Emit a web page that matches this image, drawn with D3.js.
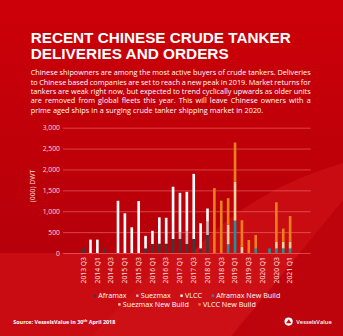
<!DOCTYPE html>
<html>
<head>
<meta charset="utf-8">
<script src="https://cdn.jsdelivr.net/npm/d3@7/dist/d3.min.js"></script>
<style>
  html, body { margin: 0; padding: 0; background: #c6060d; }
  svg { display: block; font-family: "Open Sans", "Noto Sans", sans-serif; }
  .title text { font-family: "Liberation Sans", Arial, sans-serif; }
</style>
</head>
<body>
<svg id="chart" width="343" height="336"></svg>
<script>
// Quarterly delivery / order-book volumes to Chinese owners, (000) DWT
const quarters = [
  "2013 Q3","2013 Q4","2014 Q1","2014 Q2","2014 Q3","2014 Q4",
  "2015 Q1","2015 Q2","2015 Q3","2015 Q4","2016 Q1","2016 Q2",
  "2016 Q3","2016 Q4","2017 Q1","2017 Q2","2017 Q3","2017 Q4",
  "2018 Q1","2018 Q2","2018 Q3","2018 Q4","2019 Q1","2019 Q2",
  "2019 Q3","2019 Q4","2020 Q1","2020 Q2","2020 Q3","2020 Q4","2021 Q1"
];
const aframax = [115,0,0,115,0,0, 0,0,0,110,216,223, 223,335,335,215,335,112, 431,0,0,0,0,0, 0,0,0,0,0,0,0];
const suezmax = [0,0,0,0,0,0, 0,0,0,0,0,0, 0,0,165,315,0,0, 319,0,0,0,0,0, 0,0,0,0,0,0,0];
const vlcc = [0,320,320,0,0,1250, 950,615,1245,300,316,630, 620,1252,940,935,1560,600, 315,0,0,0,0,0, 0,0,0,0,0,0,0];
const aframaxNB = [0,0,0,0,0,0, 0,0,0,0,0,0, 0,0,0,0,0,0, 0,0,0,208,775,0, 0,104,0,111,110,110,110];
const suezmaxNB = [0,0,0,0,0,0, 0,0,0,0,0,0, 0,0,0,0,0,0, 0,0,0,470,935,148, 0,0,0,0,160,160,160];
const vlccNB = [0,0,0,0,0,0, 0,0,0,0,0,0, 0,0,0,0,0,0, 0,1555,1253,635,935,637, 312,327,0,0,945,315,615];

const seriesNames = ["Aframax","Suezmax","VLCC","Aframax New Build","Suezmax New Build","VLCC New Build"];
const seriesValues = [aframax, suezmax, vlcc, aframaxNB, suezmaxNB, vlccNB];
const seriesColors = ["#3b3b3b","#c4c4c4","#ffffff","#17979c","#fbd2a2","#e9801c"];
const yTicks = [0,500,1000,1500,2000,2500,3000];
const xTickLabels = quarters.filter((q, i) => i % 2 === 0);

const titleLines = ["RECENT CHINESE CRUDE TANKER", "DELIVERIES AND ORDERS"];
const introLines = [
  "Chinese shipowners are among the most active buyers of crude tankers. Deliveries",
  "to Chinese based companies are set to reach a new peak in 2019. Market returns for",
  "tankers are weak right now, but expected to trend cyclically upwards as older units",
  "are removed from global fleets this year. This will leave Chinese owners with a",
  "prime aged ships in a surging crude tanker shipping market in 2020."
];

const W = 343, H = 336;
const svg = d3.select("#chart");

// ---- background panels ----
const defs = svg.append("defs");
const g1 = defs.append("linearGradient").attr("id","upper").attr("x1",0).attr("y1",0).attr("x2",0).attr("y2",1);
g1.append("stop").attr("offset","0%").attr("stop-color","#cc0008");
g1.append("stop").attr("offset","100%").attr("stop-color","#b6000a");
svg.append("rect").attr("width",W).attr("height",H).attr("fill","#c90c12");
svg.append("path")
  .attr("d","M0,0 L343,0 L343,163 Q250,190 192,253 L0,253 Z")
  .attr("fill","url(#upper)");
svg.append("path").attr("d","M232,336 L343,336 L343,200 Z").attr("fill","#b8000a").attr("opacity",0.75);
svg.append("path").attr("d","M92,336 L230,336 L300,253 L170,253 Z").attr("fill","#d41a1f").attr("opacity",0.35);

// ---- title ----
const title = svg.append("g")
  .attr("class", "title")
  .attr("fill", "#fff")
  .attr("font-size", 14.2)
  .attr("font-weight", 700);
titleLines.forEach((t, i) => {
  title.append("text")
    .attr("x", 30.7).attr("y", 43.1 + i * 16)
    .attr("textLength", i === 0 ? 260 : 198)
    .attr("lengthAdjust", "spacingAndGlyphs")
    .text(t);
});

// ---- intro paragraph, justified word by word ----
const para = svg.append("g").attr("fill","#fff").attr("font-size",7.3);
const paraLeft = 30.7, paraRight = 310.7;
introLines.forEach((line, i) => {
  const y = 75.4 + i * 9.3;
  const words = line.split(" ");
  const nodes = words.map(w => para.append("text").attr("y", y).text(w));
  const widths = nodes.map(n => n.node().getComputedTextLength());
  const total = d3.sum(widths);
  const last = i === introLines.length - 1;
  const gap = last ? 2.05 : (paraRight - paraLeft - total) / (words.length - 1);
  let x = paraLeft;
  nodes.forEach((n, k) => { n.attr("x", x); x += widths[k] + gap; });
});

// ---- chart scales ----
const x = d3.scaleBand().domain(quarters).range([63, 310.7]).paddingInner(0.62).paddingOuter(2.8);
const y = d3.scaleLinear().domain([0, 3000]).range([253, 127.7]);

// gridlines + y labels
const yAxis = d3.axisLeft(y).tickValues(yTicks).tickSize(-(310.7 - 63)).tickFormat(d3.format(","));
const yg = svg.append("g").attr("transform","translate(63,0)").call(yAxis);
yg.select(".domain").remove();
yg.attr("font-family", null);
yg.selectAll(".tick line").attr("stroke","#ff9a9a").attr("stroke-opacity",0.55).attr("stroke-width",0.8);
yg.selectAll(".tick text").attr("x",-3).attr("fill","#ffd9d9").attr("font-size",6.8);

svg.append("text")
  .attr("transform","translate(34.5,186) rotate(-90)")
  .attr("text-anchor","middle").attr("fill","#ffd9d9").attr("font-size",6.8)
  .text("(000) DWT");

// stacked bars
const rows = quarters.map((q, i) => {
  const r = { q };
  seriesNames.forEach((s, k) => { r[s] = seriesValues[k][i]; });
  return r;
});
const stacked = d3.stack().keys(seriesNames)(rows);
svg.append("g").selectAll("g").data(stacked).join("g")
  .attr("fill", (d, i) => seriesColors[i])
  .selectAll("rect").data(d => d).join("rect")
  .attr("x", d => x(d.data.q))
  .attr("width", x.bandwidth())
  .attr("y", d => y(d[1]))
  .attr("height", d => Math.max(0, y(d[0]) - y(d[1])));

// x labels (every other quarter), rotated
const xAxis = d3.axisBottom(x).tickValues(xTickLabels).tickSize(0);
const xg = svg.append("g").attr("transform","translate(0,253)").call(xAxis);
xg.select(".domain").remove();
xg.attr("font-family", null);
xg.selectAll(".tick text")
  .attr("fill","#ffe0e0").attr("font-size",6.8)
  .attr("text-anchor","end").attr("dy","0.33em").attr("dx",0)
  .attr("transform","translate(0,4) rotate(-90)")
  .attr("x",0).attr("y",0);

// ---- legend ----
const legendRows = [[0,1,2,3],[4,5]];
const legendY = [295.8, 304.5];
const legend = svg.append("g").attr("font-size",7.2).attr("fill","#fff");
legendRows.forEach((row, r) => {
  const grp = legend.append("g");
  let cx = 0;
  row.forEach((k, j) => {
    grp.append("rect").attr("x",cx).attr("y",legendY[r]-1.3).attr("width",2.4).attr("height",2.4).attr("fill",seriesColors[k]);
    const t = grp.append("text").attr("x",cx+4.6).attr("y",legendY[r]+2.5).text(seriesNames[k]);
    cx += 4.6 + t.node().getComputedTextLength() + 9.5;
  });
  const w = cx - 9.5;
  grp.attr("transform", `translate(${187 - w/2},0)`);
});

// ---- footer ----
const src = svg.append("text").attr("x",13.3).attr("y",324.3).attr("fill","#fff")
  .attr("font-size",5.4).attr("font-weight",700);
src.append("tspan").text("Source: VesselsValue in 30");
src.append("tspan").attr("font-size",3.6).attr("dy",-2).text("th");
src.append("tspan").attr("dy",2).text(" April 2018");

const logo = svg.append("g").attr("transform","translate(288.6,321.6)");
logo.append("circle").attr("r",4.1).attr("fill","#fff");
logo.append("path").attr("d","M-2.6,1.6 L0.2,-2.4 L2.8,1.6 Z").attr("fill","#c90c12");
svg.append("text").attr("x",296.3).attr("y",323.7).attr("fill","#fff")
  .attr("font-size",5.9).attr("font-weight",600).attr("textLength",35.4).attr("lengthAdjust","spacingAndGlyphs")
  .text("VesselsValue");
</script>
</body>
</html>
